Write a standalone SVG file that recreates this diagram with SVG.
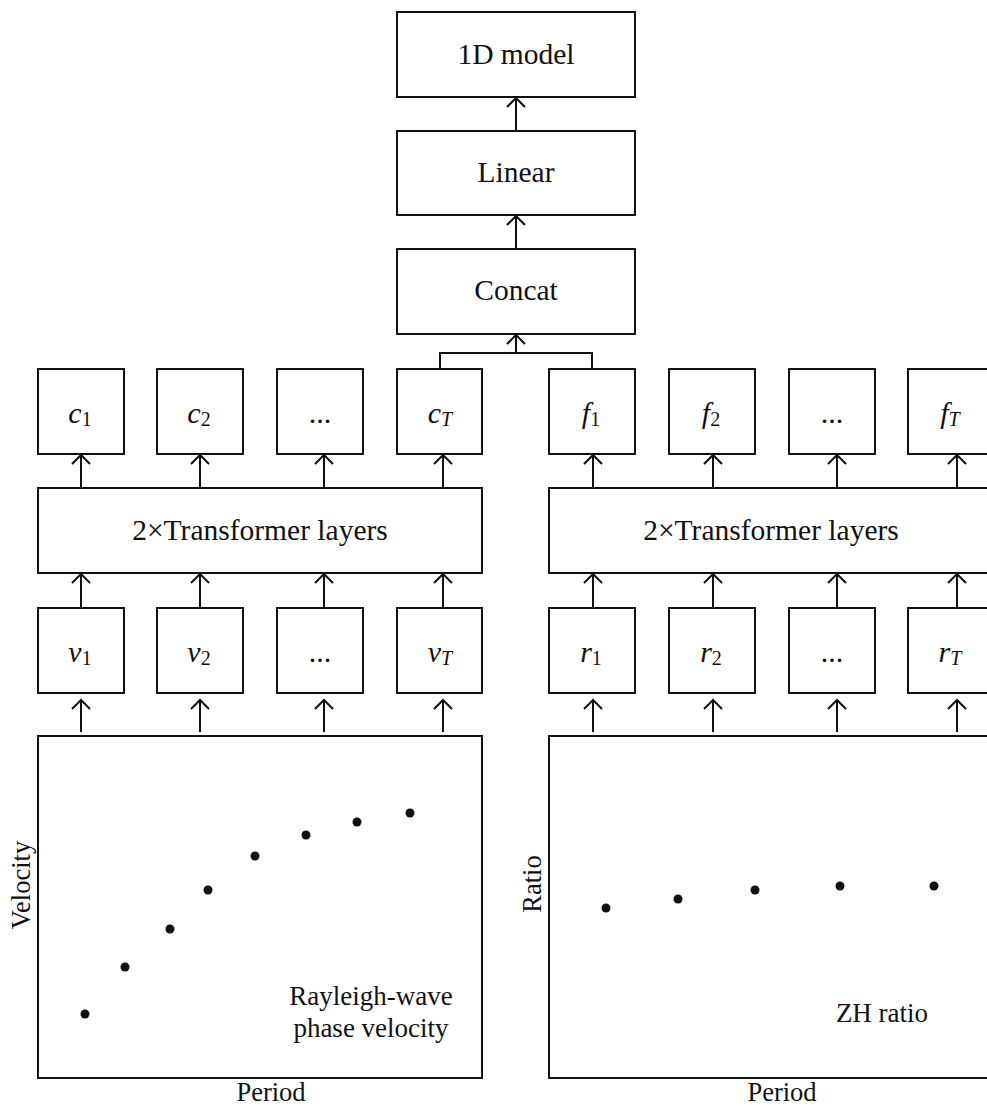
<svg xmlns="http://www.w3.org/2000/svg" width="987" height="1108" viewBox="0 0 987 1108">
<style>
.box{fill:#fff;stroke:#111;stroke-width:2}
.ln{fill:none;stroke:#111;stroke-width:2}
.arr{fill:none;stroke:#111;stroke-width:2;marker-end:url(#head)}
.t{font-family:"Liberation Serif","Times New Roman",serif;fill:#111;text-anchor:middle}
.big{font-size:29.5px}
.lab{font-size:26.5px}
.ann{font-size:27px}
.tok{font-size:30px}
.it{font-style:italic}
.sub{font-size:20px}
.dot{fill:#111}
</style>
<defs>
<marker id="head" markerUnits="userSpaceOnUse" markerWidth="22" markerHeight="22" viewBox="-11 -11 22 22" refX="0" refY="0" orient="auto" overflow="visible">
<path d="M-9,-9 L0,0 L-9,9" fill="none" stroke="#111" stroke-width="2"/>
</marker>
</defs>
<rect width="987" height="1108" fill="#fff"/>

<g id="connectors">
<line class="arr" x1="516" y1="131" x2="516" y2="98"/>
<line class="arr" x1="516" y1="249" x2="516" y2="216"/>
<path class="ln" d="M440,369 V353 H592 V369"/>
<line class="arr" x1="516" y1="353" x2="516" y2="335"/>
<!-- transformer to c row -->
<line class="arr" x1="81" y1="488" x2="81" y2="455"/>
<line class="arr" x1="200" y1="488" x2="200" y2="455"/>
<line class="arr" x1="324" y1="488" x2="324" y2="455"/>
<line class="arr" x1="443" y1="488" x2="443" y2="455"/>
<line class="arr" x1="593" y1="488" x2="593" y2="455"/>
<line class="arr" x1="713" y1="488" x2="713" y2="455"/>
<line class="arr" x1="837" y1="488" x2="837" y2="455"/>
<line class="arr" x1="957" y1="488" x2="957" y2="455"/>
<!-- v row to transformer -->
<line class="arr" x1="81" y1="608" x2="81" y2="574"/>
<line class="arr" x1="200" y1="608" x2="200" y2="574"/>
<line class="arr" x1="324" y1="608" x2="324" y2="574"/>
<line class="arr" x1="443" y1="608" x2="443" y2="574"/>
<line class="arr" x1="593" y1="608" x2="593" y2="574"/>
<line class="arr" x1="713" y1="608" x2="713" y2="574"/>
<line class="arr" x1="837" y1="608" x2="837" y2="574"/>
<line class="arr" x1="957" y1="608" x2="957" y2="574"/>
<!-- plots to v row -->
<line class="arr" x1="81" y1="732" x2="81" y2="700"/>
<line class="arr" x1="200" y1="732" x2="200" y2="700"/>
<line class="arr" x1="324" y1="732" x2="324" y2="700"/>
<line class="arr" x1="443" y1="732" x2="443" y2="700"/>
<line class="arr" x1="593" y1="732" x2="593" y2="700"/>
<line class="arr" x1="713" y1="732" x2="713" y2="700"/>
<line class="arr" x1="837" y1="732" x2="837" y2="700"/>
<line class="arr" x1="957" y1="732" x2="957" y2="700"/>
</g>

<g id="model"><rect class="box" x="397" y="12" width="238" height="85"/><text class="t big" x="516" y="64">1D model</text></g>
<g id="linear"><rect class="box" x="397" y="131" width="238" height="84"/><text class="t big" x="516" y="182">Linear</text></g>
<g id="concat"><rect class="box" x="397" y="249" width="238" height="85"/><text class="t big" x="516" y="300">Concat</text></g>

<g id="c1"><rect class="box" x="38" y="369" width="86" height="85"/><text class="t tok" x="80" y="423"><tspan class="it">c</tspan><tspan class="sub" dy="3">1</tspan></text></g>
<g id="c2"><rect class="box" x="157" y="369" width="86" height="85"/><text class="t tok" x="199" y="423"><tspan class="it">c</tspan><tspan class="sub" dy="3">2</tspan></text></g>
<g id="c3"><rect class="box" x="277" y="369" width="86" height="85"/><text class="t tok" x="320" y="423">...</text></g>
<g id="cT"><rect class="box" x="397" y="369" width="85" height="85"/><text class="t tok" x="440" y="423"><tspan class="it">c</tspan><tspan class="sub it" dy="3">T</tspan></text></g>

<g id="f1"><rect class="box" x="549" y="369" width="86" height="85"/><text class="t tok" x="591" y="423"><tspan class="it">f</tspan><tspan class="sub" dy="3">1</tspan></text></g>
<g id="f2"><rect class="box" x="669" y="369" width="86" height="85"/><text class="t tok" x="711" y="423"><tspan class="it">f</tspan><tspan class="sub" dy="3">2</tspan></text></g>
<g id="f3"><rect class="box" x="789" y="369" width="86" height="85"/><text class="t tok" x="832" y="423">...</text></g>
<g id="fT"><rect class="box" x="908" y="369" width="86" height="85"/><text class="t tok" x="950" y="423"><tspan class="it">f</tspan><tspan class="sub it" dy="3">T</tspan></text></g>

<g id="transL"><rect class="box" x="38" y="488" width="444" height="85"/><text class="t big" x="260" y="540">2×Transformer layers</text></g>
<g id="transR"><rect class="box" x="549" y="488" width="444" height="85"/><text class="t big" x="771" y="540">2×Transformer layers</text></g>

<g id="v1"><rect class="box" x="38" y="608" width="86" height="85"/><text class="t tok" x="80" y="662"><tspan class="it">v</tspan><tspan class="sub" dy="3">1</tspan></text></g>
<g id="v2"><rect class="box" x="157" y="608" width="86" height="85"/><text class="t tok" x="199" y="662"><tspan class="it">v</tspan><tspan class="sub" dy="3">2</tspan></text></g>
<g id="v3"><rect class="box" x="277" y="608" width="86" height="85"/><text class="t tok" x="320" y="662">...</text></g>
<g id="vT"><rect class="box" x="397" y="608" width="85" height="85"/><text class="t tok" x="440" y="662"><tspan class="it">v</tspan><tspan class="sub it" dy="3">T</tspan></text></g>

<g id="r1"><rect class="box" x="549" y="608" width="86" height="85"/><text class="t tok" x="591" y="662"><tspan class="it">r</tspan><tspan class="sub" dy="3">1</tspan></text></g>
<g id="r2"><rect class="box" x="669" y="608" width="86" height="85"/><text class="t tok" x="711" y="662"><tspan class="it">r</tspan><tspan class="sub" dy="3">2</tspan></text></g>
<g id="r3"><rect class="box" x="789" y="608" width="86" height="85"/><text class="t tok" x="832" y="662">...</text></g>
<g id="rT"><rect class="box" x="908" y="608" width="86" height="85"/><text class="t tok" x="950" y="662"><tspan class="it">r</tspan><tspan class="sub it" dy="3">T</tspan></text></g>

<g id="plotL">
<rect class="box" x="38" y="736" width="444" height="342"/>
<circle class="dot" cx="85" cy="1014" r="4.5"/>
<circle class="dot" cx="125" cy="967" r="4.5"/>
<circle class="dot" cx="170" cy="929" r="4.5"/>
<circle class="dot" cx="208" cy="890" r="4.5"/>
<circle class="dot" cx="255" cy="856" r="4.5"/>
<circle class="dot" cx="306" cy="835" r="4.5"/>
<circle class="dot" cx="357" cy="822" r="4.5"/>
<circle class="dot" cx="410" cy="813" r="4.5"/>
<text class="t ann" x="371" y="1005">Rayleigh-wave</text>
<text class="t ann" x="371" y="1037">phase velocity</text>
<text class="t lab" x="271" y="1101">Period</text>
<text class="t lab" transform="translate(30,885) rotate(-90)">Velocity</text>
</g>

<g id="plotR">
<rect class="box" x="549" y="736" width="444" height="342"/>
<circle class="dot" cx="606" cy="908" r="4.5"/>
<circle class="dot" cx="678" cy="899" r="4.5"/>
<circle class="dot" cx="755" cy="890" r="4.5"/>
<circle class="dot" cx="840" cy="886" r="4.5"/>
<circle class="dot" cx="934" cy="886" r="4.5"/>
<text class="t ann" x="882" y="1022">ZH ratio</text>
<text class="t lab" x="782" y="1101">Period</text>
<text class="t lab" transform="translate(541,884) rotate(-90)">Ratio</text>
</g>
</svg>
